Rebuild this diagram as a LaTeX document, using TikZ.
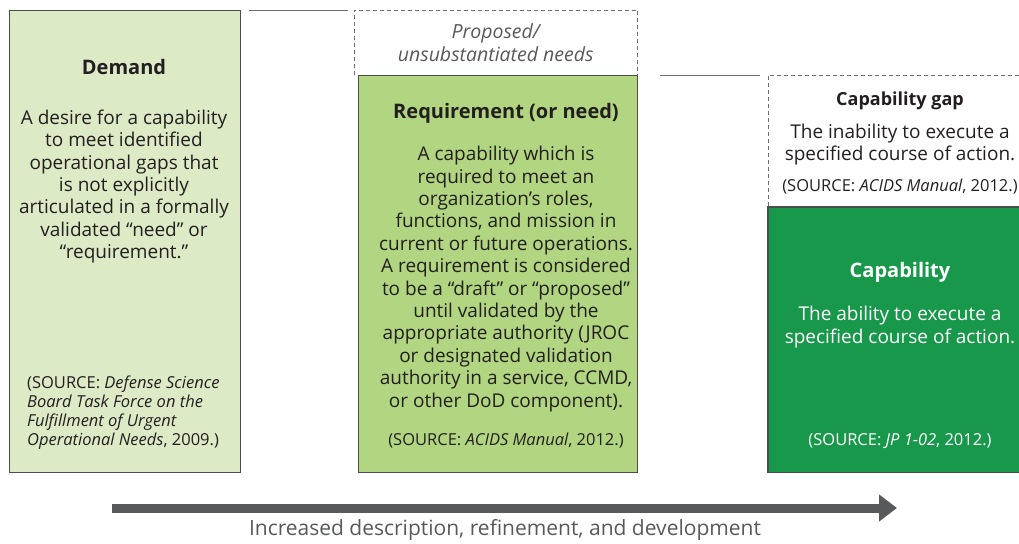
\documentclass[tikz,border=0pt]{standalone}
\usepackage{fontspec}
\setmainfont{Open Sans}
\usetikzlibrary{arrows.meta}
\definecolor{demandgreen}{HTML}{DDEAC6}
\definecolor{reqgreen}{HTML}{B1D580}
\definecolor{capgreen}{HTML}{18984A}
\definecolor{edgegray}{HTML}{4D4D4D}
\definecolor{dashgray}{HTML}{6D6E71}
\definecolor{arrowgray}{HTML}{58595B}
\definecolor{inkdark}{HTML}{231F20}
\newcommand{\bodysize}{\fontsize{19}{22.4}\selectfont}
\newcommand{\srcsize}{\fontsize{16.5}{19}\selectfont}
\begin{document}
\begin{tikzpicture}[x=1pt,y=-1pt,
  box/.style={anchor=north west,inner sep=0pt,line width=1.2pt,draw=edgegray},
  gapbox/.style={anchor=north west,inner sep=0pt},
  gapline/.style={draw=dashgray,line width=0.9pt,dash pattern=on 4pt off 3pt},
  link/.style={draw=dashgray,line width=0.9pt},
  title/.style={font=\bfseries\fontsize{20}{24}\selectfont,text=inkdark},
  body/.style={align=center,font=\bodysize,text=inkdark},
  source/.style={align=center,font=\srcsize,text=inkdark}]
 \useasboundingbox (0,0) rectangle (1019,543);
 % boxes
 \node[box,fill=demandgreen,minimum width=231pt,minimum height=462pt] (demand) at (9,10) {};
 \node[gapbox,minimum width=283pt,minimum height=65pt] (proposed) at (354,10) {};
 \draw[gapline] (proposed.south west) -- (proposed.north west) -- (proposed.north east) -- (proposed.south east);
 \node[box,fill=reqgreen,minimum width=279pt,minimum height=397pt] (req) at (358,75) {};
 \node[gapbox,minimum width=251pt,minimum height=132pt] (gap) at (768,75) {};
 \draw[gapline] (gap.north east) -- (gap.north west) -- (gap.south west);
 \node[gapbox,fill=capgreen,minimum width=251pt,minimum height=265pt] (cap) at (768,207) {};
 \draw[edgegray,line width=1.2pt] (cap.north east) -- (cap.north west) -- (cap.south west) -- (cap.south east);
 % links between boxes
 \coordinate (linkA) at (249,10);
 \coordinate (linkB) at (348,10);
 \coordinate (linkC) at (660,75);
 \coordinate (linkD) at (760,75);
 \draw[link] (linkA) -- (linkB);
 \draw[link] (linkC) -- (linkD);
 % demand
 \node[title] (demandtitle) at (124,67) {Demand};
 \node[body] (demandtext) at (124,186.5) {A desire for a capability\\to meet identified\\operational gaps that\\is not explicitly\\articulated in a formally\\validated “need” or\\“requirement.”};
 \node[source,align=left,anchor=west,inner sep=0pt] (demandsrc) at (27,412.5) {(SOURCE: \textit{Defense Science}\\\textit{Board Task Force on the}\\\textit{Fulfillment of Urgent}\\\textit{Operational Needs}, 2009.)};
 % requirement
 \node[body,text=arrowgray,font=\itshape\fontsize{19.5}{22.4}\selectfont] (proposedtext) at (proposed.center) {Proposed/\\unsubstantiated needs};
 \node[title] (reqtitle) at (506,113) {Requirement (or need)};
 \node[body] (reqtext) at (506,279) {A capability which is\\required to meet an\\organization's roles,\\functions, and mission in\\current or future operations.\\A requirement is considered\\to be a “draft” or “proposed”\\until validated by the\\appropriate authority (JROC\\or designated validation\\authority in a service, CCMD,\\or other DoD component).};
 \node[source] (reqsrc) at (506,441) {(SOURCE: \textit{ACIDS Manual}, 2012.)};
 % capability gap
 \node[title,font=\bfseries\fontsize{18}{21}\selectfont] (gaptitle) at (900,101) {Capability gap};
 \node[body] (gaptext) at (900,144.5) {The inability to execute a\\specified course of action.};
 \node[source] (gapsrc) at (900,187) {(SOURCE: \textit{ACIDS Manual}, 2012.)};
 % capability
 \node[title,text=white] (captitle) at (900,272) {Capability};
 \node[body,text=white] (captext) at (900,327) {The ability to execute a\\specified course of action.};
 \node[source,text=white] (capsrc) at (900,441) {(SOURCE: \textit{JP 1-02}, 2012.)};
 % arrow
 \coordinate (arrstart) at (112,508);
 \coordinate (arrend) at (897,508);
 \draw[arrowgray,line width=9pt,-{Triangle[length=18pt,width=26pt]}] (arrstart) -- (arrend);
 \node[text=arrowgray,font=\fontsize{21}{24}\selectfont] (arrlabel) at (505,530) {Increased description, refinement, and development};
\end{tikzpicture}
\end{document}
